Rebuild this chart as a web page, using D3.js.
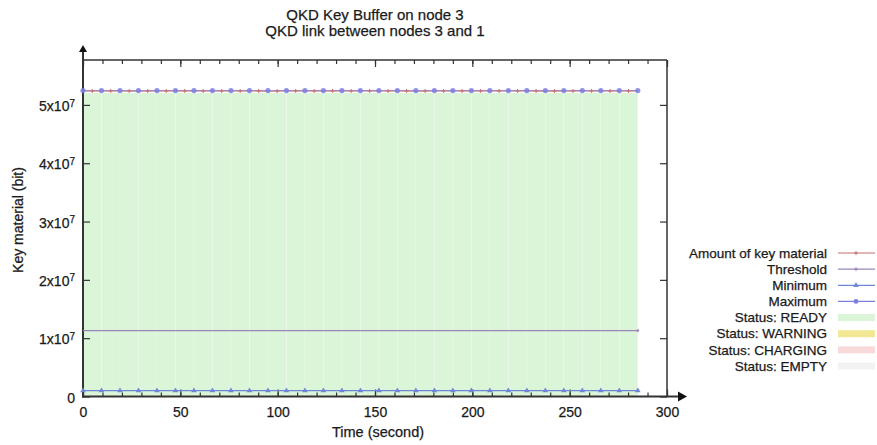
<!DOCTYPE html>
<html>
<head>
<meta charset="utf-8">
<title>QKD Key Buffer on node 3</title>
<script src="https://d3js.org/d3.v7.min.js"></script>
<style>
  body { margin: 0; background: #fff; }
  text { font-family: "Liberation Sans", Arial, sans-serif; fill: #1a1a1a; stroke: #1a1a1a; stroke-width: 0.25px; }
</style>
</head>
<body>
<script>
// data
var times = [0, 9.5, 19, 28.5, 38, 47.5, 57, 66.5, 76, 85.5, 95, 104.5, 114, 123.5, 133, 142.5,
             152, 161.5, 171, 180.5, 190, 199.5, 209, 218.5, 228, 237.5, 247, 256.5, 266, 275.5, 285];
var keyMaterial = [5.24e7, 5.24e7, 5.24e7, 5.238e7, 5.24e7, 5.24e7, 5.239e7, 5.24e7, 5.24e7, 5.24e7,
                   5.238e7, 5.24e7, 5.24e7, 5.24e7, 5.239e7, 5.24e7, 5.24e7, 5.24e7, 5.238e7, 5.24e7,
                   5.24e7, 5.24e7, 5.239e7, 5.24e7, 5.24e7, 5.238e7, 5.24e7, 5.24e7, 5.24e7, 5.239e7, 5.24e7];
var threshold = [1.13e7, 1.13e7, 1.13e7, 1.13e7, 1.13e7, 1.13e7, 1.13e7, 1.13e7, 1.13e7, 1.13e7,
                 1.13e7, 1.13e7, 1.13e7, 1.13e7, 1.13e7, 1.13e7, 1.13e7, 1.13e7, 1.13e7, 1.13e7,
                 1.13e7, 1.13e7, 1.13e7, 1.13e7, 1.13e7, 1.13e7, 1.13e7, 1.13e7, 1.13e7, 1.13e7, 1.13e7];
var minimum = [1e6, 1e6, 1e6, 1e6, 1e6, 1e6, 1e6, 1e6, 1e6, 1e6, 1e6, 1e6, 1e6, 1e6, 1e6, 1e6,
               1e6, 1e6, 1e6, 1e6, 1e6, 1e6, 1e6, 1e6, 1e6, 1e6, 1e6, 1e6, 1e6, 1e6, 1e6];
var maximum = [5.245e7, 5.245e7, 5.245e7, 5.245e7, 5.245e7, 5.245e7, 5.245e7, 5.245e7, 5.245e7, 5.245e7,
               5.245e7, 5.245e7, 5.245e7, 5.245e7, 5.245e7, 5.245e7, 5.245e7, 5.245e7, 5.245e7, 5.245e7,
               5.245e7, 5.245e7, 5.245e7, 5.245e7, 5.245e7, 5.245e7, 5.245e7, 5.245e7, 5.245e7, 5.245e7, 5.245e7];
var xTicks = [0, 50, 100, 150, 200, 250, 300];
var yTicks = [0, 1e7, 2e7, 3e7, 4e7, 5e7];
var legendNames = ["Amount of key material", "Threshold", "Minimum", "Maximum",
                   "Status: READY", "Status: WARNING", "Status: CHARGING", "Status: EMPTY"];

var W = 877, H = 445;
var pL = 83, pR = 667, pT = 60, pB = 396.5;

var svg = d3.select("body").append("svg").attr("width", W).attr("height", H);

var x = d3.scaleLinear().domain([0, 300]).range([pL, pR]);
var y = d3.scaleLinear().domain([0, 5.77e7]).range([pB, pT]);

var cRed = "#c87070", cThr = "#9a86b8", cMin = "#6f86d6", cMax = "#7b7fe0";
var cReady = "#dbf5d9", cWarn = "#f2e793", cCharge = "#f8dada", cEmpty = "#f2f2f2";

// READY status fill (boxes between samples)
svg.append("g").selectAll("rect")
  .data(times.slice(0, -1))
  .enter().append("rect")
  .attr("x", function(d) { return x(d); })
  .attr("width", function(d, i) { return x(times[i + 1]) - x(d); })
  .attr("y", function(d, i) { return y(keyMaterial[i]) + 2; })
  .attr("height", function(d, i) { return pB - y(keyMaterial[i]) - 2; })
  .style("fill", cReady)
  .style("stroke", "rgba(255,255,255,0.2)")
  .style("stroke-width", 0.8);

// axes with inward ticks
var xMinor = d3.range(0, 301, 10);
var gxMinor = svg.append("g").attr("transform", "translate(0," + pB + ")")
  .call(d3.axisBottom(x).tickValues(xMinor).tickSize(-4).tickFormat(""));
var gxMinorTop = svg.append("g").attr("transform", "translate(0," + pT + ")")
  .call(d3.axisTop(x).tickValues(xMinor).tickSize(-4).tickFormat(""));
var gx = svg.append("g").attr("transform", "translate(0," + pB + ")")
  .call(d3.axisBottom(x).tickValues(xTicks).tickSize(-7).tickPadding(16));
var gxTop = svg.append("g").attr("transform", "translate(0," + pT + ")")
  .call(d3.axisTop(x).tickValues(xTicks).tickSize(-7).tickFormat(""));
var gy = svg.append("g").attr("transform", "translate(" + pL + ",0)")
  .call(d3.axisLeft(y).tickValues(yTicks).tickSize(-7).tickFormat(""));
var gyRight = svg.append("g").attr("transform", "translate(" + pR + ",0)")
  .call(d3.axisRight(y).tickValues(yTicks).tickSize(-7).tickFormat(""));

[gxMinor, gxMinorTop, gx, gxTop, gy, gyRight].forEach(function(g) {
  g.select(".domain").remove();
  g.selectAll(".tick line").style("stroke", "#333").style("stroke-width", 1.2);
});
gx.selectAll(".tick text").style("font-size", "14px").style("fill", "#1a1a1a")
  .style("font-family", "'Liberation Sans', Arial, sans-serif").attr("dy", "0.32em");

// y tick labels like 5x10^7
gy.selectAll(".tick").each(function(d) {
  var t = d3.select(this).append("text")
    .attr("x", -8).attr("dy", "0.4em")
    .style("text-anchor", "end").style("font-size", "14px");
  if (d === 0) { t.text("0"); return; }
  t.append("tspan").text((d / 1e7) + "x10");
  t.append("tspan").attr("dy", "-0.45em").style("font-size", "10px").text("7");
});

// frame
svg.append("line").attr("x1", pL).attr("x2", pR).attr("y1", pT).attr("y2", pT)
  .style("stroke", "#333").style("stroke-width", 1.5);
svg.append("line").attr("x1", pR).attr("x2", pR).attr("y1", pT).attr("y2", pB)
  .style("stroke", "#333").style("stroke-width", 1.5);
svg.append("line").attr("x1", pL).attr("x2", pL).attr("y1", pT - 10).attr("y2", pB + 1)
  .style("stroke", "#333").style("stroke-width", 2);
svg.append("line").attr("x1", pL - 1).attr("x2", pR + 12).attr("y1", pB).attr("y2", pB)
  .style("stroke", "#333").style("stroke-width", 2);
// arrow heads
svg.append("path")
  .attr("d", "M" + pL + "," + (pT - 15) + " L" + (pL - 4) + "," + (pT - 8) + " L" + (pL + 4) + "," + (pT - 8) + "Z")
  .style("fill", "#111");
svg.append("path")
  .attr("d", "M" + (pR + 20) + "," + pB + " L" + (pR + 11) + "," + (pB - 5) + " L" + (pR + 11) + "," + (pB + 5) + "Z")
  .style("fill", "#111");

// series lines
function lineOf(vals) {
  return d3.line().x(function(d, i) { return x(times[i]); }).y(function(d) { return y(d); })(vals);
}
svg.append("path").attr("d", lineOf(threshold)).style("fill", "none").style("stroke", cThr).style("stroke-width", 1.2);
svg.append("path").attr("d", lineOf(minimum)).style("fill", "none").style("stroke", cMin).style("stroke-width", 1.2);
svg.append("path").attr("d", lineOf(keyMaterial)).style("fill", "none").style("stroke", cRed).style("stroke-width", 1.2);
svg.append("path").attr("d", lineOf(maximum)).style("fill", "none").style("stroke", cMax).style("stroke-width", 1)
  .style("opacity", 0.6);

// markers
svg.append("g").selectAll("path")
  .data(keyMaterial.slice(0, -1)).enter().append("path")
  .attr("transform", function(d, i) { return "translate(" + x(times[i] + 4.75) + "," + y(d) + ")"; })
  .attr("d", "M-2,0H2M0,-2V2")
  .style("stroke", cRed).style("stroke-width", 1);
svg.append("g").selectAll("path")
  .data(minimum).enter().append("path")
  .attr("transform", function(d, i) { return "translate(" + x(times[i]) + "," + y(d) + ")"; })
  .attr("d", d3.symbol().type(d3.symbolTriangle).size(14))
  .style("fill", cMin);
svg.append("g").selectAll("circle")
  .data(maximum).enter().append("circle")
  .attr("cx", function(d, i) { return x(times[i]); })
  .attr("cy", function(d) { return y(d); })
  .attr("r", 2.6)
  .style("fill", cMax).style("opacity", 0.85);
svg.append("circle").attr("cx", x(times[times.length - 1])).attr("cy", y(threshold[threshold.length - 1]))
  .attr("r", 1.4).style("fill", cThr);

// titles
svg.append("text").attr("x", 375).attr("y", 20).style("text-anchor", "middle").style("font-size", "15px")
  .text("QKD Key Buffer on node 3");
svg.append("text").attr("x", 375).attr("y", 36).style("text-anchor", "middle").style("font-size", "15px")
  .text("QKD link between nodes 3 and 1");
svg.append("text").attr("x", 378).attr("y", 437).style("text-anchor", "middle").style("font-size", "14.5px")
  .text("Time (second)");
svg.append("text").attr("transform", "translate(23,220) rotate(-90)").style("text-anchor", "middle")
  .style("font-size", "14px").text("Key material (bit)");

// legend
var legY = d3.scaleLinear().domain([0, 7]).range([253, 366]);
var leg = svg.append("g").selectAll("g").data(legendNames).enter().append("g")
  .attr("transform", function(d, i) { return "translate(0," + legY(i) + ")"; });
leg.append("text").attr("x", 827).attr("dy", "0.35em").style("text-anchor", "end").style("font-size", "13.5px")
  .text(function(d) { return d; });
var lineCols = [cRed, cThr, cMin, cMax];
var boxCols = [cReady, cWarn, cCharge, cEmpty];
leg.each(function(d, i) {
  var g = d3.select(this);
  if (i < 4) {
    g.append("line").attr("x1", 838).attr("x2", 875).style("stroke", lineCols[i]).style("stroke-width", 1.2);
    if (i === 2) g.append("path").attr("transform", "translate(856,0)")
      .attr("d", d3.symbol().type(d3.symbolTriangle).size(14)).style("fill", cMin);
    else if (i === 3) g.append("circle").attr("cx", 856).attr("r", 2.4).style("fill", cMax);
    else g.append("path").attr("d", "M854,0H858M856,-2V2").style("stroke", lineCols[i]);
  } else {
    g.append("rect").attr("x", 838).attr("y", -3.5).attr("width", 37).attr("height", 7).style("fill", boxCols[i - 4]);
  }
});
</script>
</body>
</html>
